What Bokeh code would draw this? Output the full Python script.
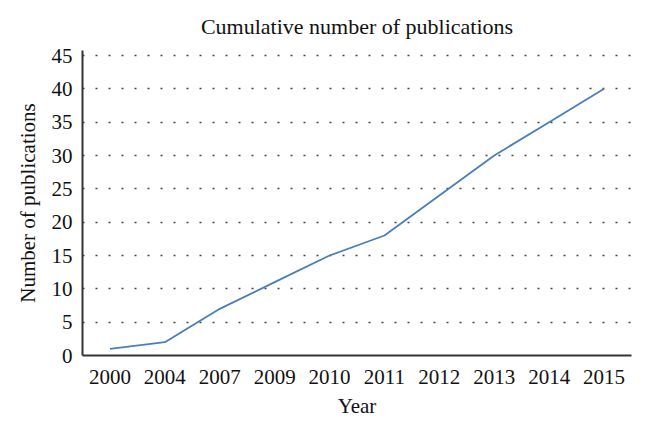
from bokeh.plotting import figure
from bokeh.models import Range1d, FactorRange, FixedTicker
from bokeh.embed import file_html
from bokeh.resources import INLINE

# Data
years = ["2000", "2004", "2007", "2009", "2010", "2011", "2012", "2013", "2014", "2015"]
publications = [1, 2, 7, 11, 15, 18, 24, 30, 35, 40]
y_ticks = [0, 5, 10, 15, 20, 25, 30, 35, 40, 45]

FONT = "Liberation Serif"

p = figure(
    width=638, height=420,
    x_range=FactorRange(*years),
    y_range=Range1d(0, 45.75),
    output_backend="svg",
    toolbar_location=None,
    min_border_left=82, min_border_right=7,
    min_border_top=50, min_border_bottom=65,
    title="Cumulative number of publications",
)

p.line(x=years, y=publications, line_color="#4A7EBB", line_width=1.8)

p.title.align = "center"
p.title.text_font = FONT
p.title.text_font_size = "22px"
p.title.text_font_style = "normal"
p.title.text_color = "#111111"
p.title.standoff = 23

p.outline_line_color = None
p.background_fill_color = "white"
p.border_fill_color = "white"

p.xgrid.grid_line_color = None
p.ygrid.grid_line_color = "#444444"
p.ygrid.grid_line_width = 1.5
p.ygrid.grid_line_dash = "2 11"
p.yaxis.ticker = FixedTicker(ticks=y_ticks)

for ax in (p.xaxis, p.yaxis):
    ax.major_tick_line_color = None
    ax.minor_tick_line_color = None
    ax.major_tick_out = 0
    ax.major_tick_in = 0
    ax.minor_tick_out = 0
    ax.axis_line_color = "#333333"
    ax.axis_line_width = 2
    ax.major_label_text_font = FONT
    ax.major_label_text_font_size = "21px"
    ax.major_label_text_color = "#111111"
    ax.axis_label_text_font = FONT
    ax.axis_label_text_font_size = "21px"
    ax.axis_label_text_font_style = "normal"
    ax.axis_label_text_color = "#111111"

p.xaxis.axis_label = "Year"
p.yaxis.axis_label = "Number of publications"
p.xaxis.major_label_standoff = 14
p.yaxis.major_label_standoff = 10
p.xaxis.axis_label_standoff = 7
p.yaxis.axis_label_standoff = 9

open("out.html", "w").write(file_html(p, INLINE))
